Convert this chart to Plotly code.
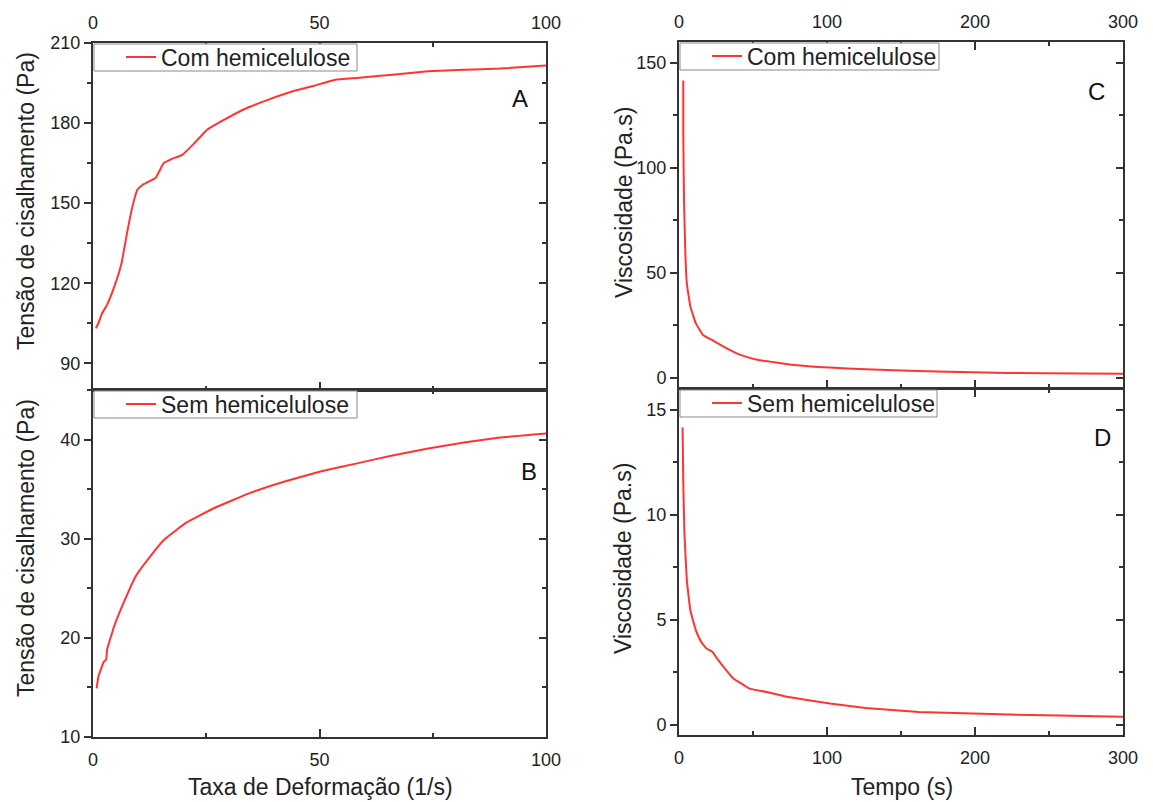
import plotly.graph_objects as go

FONT = "Arial, 'Liberation Sans', sans-serif"
W, H = 1153, 802

# ---- data ----
# Panel A: shear stress vs shear rate, with hemicellulose
rate_a = [0.63, 1.2, 2.0, 3.1, 4.7, 6.3, 7.5, 8.7, 9.8, 11.0, 13.8, 15.6, 17.3, 19.7,
          22.4, 25.2, 28.3, 33.1, 38.6, 44.1, 48.8, 53.5, 58.3, 66.1, 74.0, 81.9, 89.8, 100.0]
stress_a = [103.1, 105.0, 108.7, 111.9, 118.7, 127.5, 138.7, 148.7, 155.0, 156.9, 159.4, 165.0,
            166.5, 168.1, 172.5, 177.5, 180.6, 185.0, 188.7, 191.9, 194.0, 196.2, 196.9, 198.1,
            199.4, 200.0, 200.4, 201.6]
# Panel B: shear stress vs shear rate, without hemicellulose
rate_b = [0.8, 1.2, 2.4, 2.9, 3.1, 4.7, 7.1, 9.4, 12.6, 15.7, 20.5, 26.8, 34.6, 42.5,
          50.4, 58.3, 66.1, 74.0, 81.9, 89.8, 100.0]
stress_b = [14.9, 16.1, 17.6, 17.8, 18.8, 21.2, 23.9, 26.2, 28.2, 29.9, 31.6, 33.1, 34.6,
            35.8, 36.8, 37.6, 38.4, 39.1, 39.7, 40.2, 40.6]
# Panel C: viscosity vs time, with hemicellulose
time_c = [2.9, 2.9, 3.4, 4.3, 5.3, 7.7, 11.4, 16.2, 22.2, 31.9, 41.5, 53.6, 77.8, 101.9,
          126.0, 174.0, 222.7, 271.0, 300.0]
visc_c = [141.6, 116.0, 84.5, 59.0, 44.9, 33.8, 25.8, 20.3, 17.9, 14.0, 10.8, 8.4, 6.0,
          4.76, 3.96, 2.85, 2.2, 1.9, 1.74]
# Panel D: viscosity vs time, without hemicellulose
time_d = [2.4, 2.9, 3.6, 5.3, 7.7, 11.4, 15.0, 18.6, 22.7, 25.8, 31.9, 36.7, 44.0, 47.6,
          58.5, 73.0, 102.0, 126.0, 162.0, 198.6, 247.0, 300.0]
visc_d = [14.17, 11.6, 9.25, 6.87, 5.44, 4.49, 3.94, 3.62, 3.46, 3.14, 2.59, 2.19, 1.87,
          1.71, 1.56, 1.32, 1.0, 0.79, 0.6, 0.52, 0.44, 0.37]

series_names = ["Com hemicelulose", "Sem hemicelulose", "Com hemicelulose", "Sem hemicelulose"]
panel_letters = ["A", "B", "C", "D"]
ytitle_left = "Tensão de cisalhamento (Pa)"
ytitle_right = "Viscosidade (Pa.s)"
xtitle_left = "Taxa de Deformação (1/s)"
xtitle_right = "Tempo (s)"

LINE_RED = "#ff3535"
AX = "#333333"
TXT = "#222222"


def px_x(p):
    return p / W


def px_y(p):
    return 1 - p / H


# panel pixel boxes: (left, right, top, bottom)
boxes = [(93, 546, 43, 390), (93, 546, 390, 737), (679, 1123, 42, 388), (679, 1123, 389, 735)]
legend_w = [264, 264, 260, 258]
legend_h = 28
xranges = [[0, 100], [0, 100], [0, 300], [0, 300]]
xdt = [50, 50, 100, 100]
yranges = [[80, 210], [10, 45], [-5, 160], [-0.5, 16]]
ydt = [30, 10, 50, 5]
xside = ["top", "bottom", "top", "bottom"]

fig = go.Figure()
data = [(rate_a, stress_a), (rate_b, stress_b), (time_c, visc_c), (time_d, visc_d)]
for i, (xs, ys) in enumerate(data):
    n = "" if i == 0 else str(i + 1)
    fig.add_trace(go.Scatter(x=xs, y=ys, mode="lines", name=series_names[i],
                             line=dict(color=LINE_RED, width=2, shape="spline", smoothing=0.3),
                             xaxis="x" + n, yaxis="y" + n,
                             legend="legend" + n))
    # empty trace to carry the right-hand tick axis
    fig.add_trace(go.Scatter(x=[], y=[], xaxis="x" + n, yaxis="y" + str(i + 5),
                             showlegend=False, hoverinfo="skip"))

layout = dict(width=W, height=H, margin=dict(l=0, r=0, t=0, b=0, autoexpand=False),
              paper_bgcolor="white", plot_bgcolor="white", showlegend=True,
              font=dict(family=FONT, color=TXT))

shapes = []
for i in range(4):
    n = "" if i == 0 else str(i + 1)
    l, r, t, b = boxes[i]
    layout["xaxis" + n] = dict(
        domain=[px_x(l), px_x(r)], anchor="y" + n, side=xside[i], range=xranges[i],
        dtick=xdt[i], tick0=0, showline=True, linecolor=AX, linewidth=2, mirror="ticks",
        ticks="inside", ticklen=8, tickwidth=2, tickcolor=AX, automargin=False,
        minor=dict(ticks="inside", ticklen=4, tickwidth=2, tickcolor=AX, dtick=xdt[i] / 2),
        showgrid=False, zeroline=False, ticklabelstandoff=5,
        tickfont=dict(size=18, color=TXT, family=FONT))
    layout["yaxis" + n] = dict(
        domain=[px_y(b), px_y(t)], anchor="x" + n, range=yranges[i], dtick=ydt[i], tick0=0,
        showline=True, linecolor=AX, linewidth=2, mirror=True, automargin=False,
        ticks="outside", ticklen=7, tickwidth=2, tickcolor=AX,
        minor=dict(ticks="outside", ticklen=4, tickwidth=2, tickcolor=AX, dtick=ydt[i] / 2),
        showgrid=False, zeroline=False,
        tickfont=dict(size=18, color=TXT, family=FONT))
    layout["yaxis" + str(i + 5)] = dict(
        overlaying="y" + n, anchor="x" + n, side="right", range=yranges[i], dtick=ydt[i],
        tick0=0, showline=False, showticklabels=False, showgrid=False, zeroline=False,
        ticks="inside", ticklen=7, tickwidth=2, tickcolor=AX, automargin=False,
        minor=dict(ticks="inside", ticklen=4, tickwidth=2, tickcolor=AX, dtick=ydt[i] / 2))
    # legend frame
    shapes.append(dict(type="rect", xref="paper", yref="paper", layer="above",
                       x0=px_x(l + 1), x1=px_x(l + legend_w[i]),
                       y0=px_y(t + legend_h), y1=px_y(t + 1),
                       fillcolor="white", line=dict(color="#8a8a8a", width=1)))
    layout["legend" + n] = dict(
        x=px_x(l + 28), y=px_y(t + legend_h / 2), xanchor="left", yanchor="middle",
        bgcolor="rgba(0,0,0,0)", borderwidth=0, itemwidth=30,
        font=dict(size=23, family=FONT, color=TXT))
layout["shapes"] = shapes

annotations = []
letter_pos = [(520, 98), (529, 471), (1096, 92), (1102, 438)]
for (lx, ly), letter in zip(letter_pos, panel_letters):
    annotations.append(dict(x=px_x(lx), y=px_y(ly), xref="paper", yref="paper",
                            text=letter, showarrow=False, xanchor="center", yanchor="middle",
                            font=dict(size=24, family=FONT, color="#111")))
ytitles = [(26, 201, ytitle_left), (26, 548, ytitle_left), (624, 203, ytitle_right),
           (623, 559, ytitle_right)]
for tx, ty, txt in ytitles:
    annotations.append(dict(x=px_x(tx), y=px_y(ty), xref="paper", yref="paper", text=txt,
                            textangle=-90, showarrow=False, xanchor="center", yanchor="middle",
                            font=dict(size=23, family=FONT, color=TXT)))
for tx, ty, txt in [(320, 787, xtitle_left), (902, 787, xtitle_right)]:
    annotations.append(dict(x=px_x(tx), y=px_y(ty), xref="paper", yref="paper", text=txt,
                            showarrow=False, xanchor="center", yanchor="middle",
                            font=dict(size=23, family=FONT, color=TXT)))
layout["annotations"] = annotations

fig.update_layout(**layout)
fig.write_html("out.html", config={"displayModeBar": False},
               post_script="document.body.style.margin='0';document.body.style.overflow='hidden';")
